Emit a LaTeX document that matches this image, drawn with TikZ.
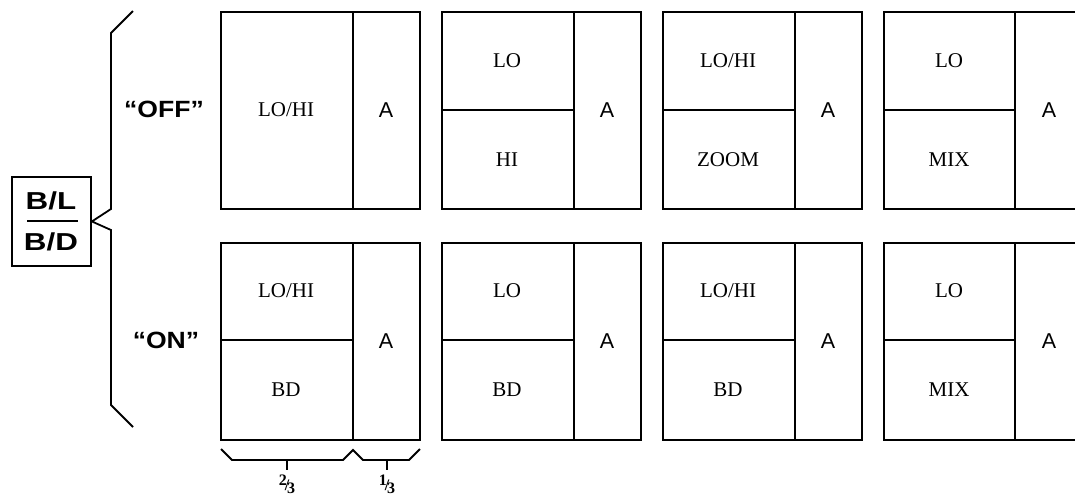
\documentclass[tikz,border=0pt]{standalone}
\usepackage{fontspec}
\setmainfont{Liberation Serif}
\newfontfamily\hel{Liberation Sans}
\newfontfamily\helst[FakeStretch=1.13]{Liberation Sans}
\newfontfamily\helkey[FakeStretch=1.28]{Liberation Sans}
\begin{document}
\begin{tikzpicture}[x=1pt,y=-1pt,
  panel/.style={draw,line width=1.8pt,minimum width=199pt,minimum height=197pt,inner sep=0pt,anchor=north west},
  rule/.style={line width=1.8pt},
  brace/.style={line width=1.8pt,line join=miter},
  lbl/.style={font=\fontsize{21}{21}\selectfont},
  alab/.style={font=\hel\fontsize{21.5}{21.5}\selectfont},
  state/.style={font=\helst\bfseries\fontsize{23.5}{23.5}\selectfont},
  key/.style={font=\helkey\bfseries\fontsize{24.5}{24.5}\selectfont},
  frac/.style={font=\bfseries\fontsize{16}{16}\selectfont,inner sep=0pt}]
\useasboundingbox (0,0) rectangle (1075,499);
\clip (0,0) rectangle (1075,499);
% left key box
\node[draw,line width=1.9pt,minimum width=79pt,minimum height=89pt,anchor=north west] (bl) at (11,176) {};
\node[key] (blt) at (51,201) {B/L};
\node[key] (bdt) at (51,242) {B/D};
\draw[line width=2.2pt] (27,221) -- (78,221);
% left brace
\draw[brace] (133,11) -- (111,33) -- (111,209) -- (bl.east) -- (111,230) -- (111,405) -- (133,427);
\node[state] (off) at (164,109) {“OFF”};
\node[state] (on) at (166,340) {“ON”};
% ---- row 1
\node[panel] (p11) at (220,11) {};
\draw[rule] (353,11) -- (353,208);
\node[lbl] (t11) at (286,110) {LO/HI};
\node[alab] (a11) at (386,110) {A};

\node[panel] (p12) at (441,11) {};
\draw[rule] (574,11) -- (574,208);
\draw[rule] (441,110) -- (574,110);
\node[lbl] (t12a) at (507,61) {LO};
\node[lbl] (t12b) at (507,160) {HI};
\node[alab] (a12) at (607,110) {A};

\node[panel] (p13) at (662,11) {};
\draw[rule] (795,11) -- (795,208);
\draw[rule] (662,110) -- (795,110);
\node[lbl] (t13a) at (728,61) {LO/HI};
\node[lbl] (t13b) at (728,160) {ZOOM};
\node[alab] (a13) at (828,110) {A};

\node[panel] (p14) at (883,11) {};
\draw[rule] (1015,11) -- (1015,208);
\draw[rule] (883,110) -- (1015,110);
\node[lbl] (t14a) at (949,61) {LO};
\node[lbl] (t14b) at (949,160) {MIX};
\node[alab] (a14) at (1049,110) {A};
% ---- row 2
\node[panel] (p21) at (220,242) {};
\draw[rule] (353,242) -- (353,439);
\draw[rule] (220,340) -- (353,340);
\node[lbl] (t21a) at (286,291) {LO/HI};
\node[lbl] (t21b) at (286,390) {BD};
\node[alab] (a21) at (386,341) {A};

\node[panel] (p22) at (441,242) {};
\draw[rule] (574,242) -- (574,439);
\draw[rule] (441,340) -- (574,340);
\node[lbl] (t22a) at (507,291) {LO};
\node[lbl] (t22b) at (507,390) {BD};
\node[alab] (a22) at (607,341) {A};

\node[panel] (p23) at (662,242) {};
\draw[rule] (795,242) -- (795,439);
\draw[rule] (662,340) -- (795,340);
\node[lbl] (t23a) at (728,291) {LO/HI};
\node[lbl] (t23b) at (728,390) {BD};
\node[alab] (a23) at (828,341) {A};

\node[panel] (p24) at (883,242) {};
\draw[rule] (1015,242) -- (1015,439);
\draw[rule] (883,340) -- (1015,340);
\node[lbl] (t24a) at (949,291) {LO};
\node[lbl] (t24b) at (949,390) {MIX};
\node[alab] (a24) at (1049,341) {A};
% bottom braces
\draw[brace] (221,449) -- (232,460) -- (343,460) -- (353,450) -- (363,460) -- (409,460) -- (420,449);
\draw[brace] (287,460) -- (287,470);
\draw[brace] (387,460) -- (387,470);
\node[frac] (f23) at (287,484) {\raisebox{4pt}{2}\kern-2pt\raisebox{-1pt}{/}\kern-2pt\raisebox{-4pt}{3}};
\node[frac] (f13) at (387,484) {\raisebox{4pt}{1}\kern-2pt\raisebox{-1pt}{/}\kern-2pt\raisebox{-4pt}{3}};
\end{tikzpicture}
\end{document}
